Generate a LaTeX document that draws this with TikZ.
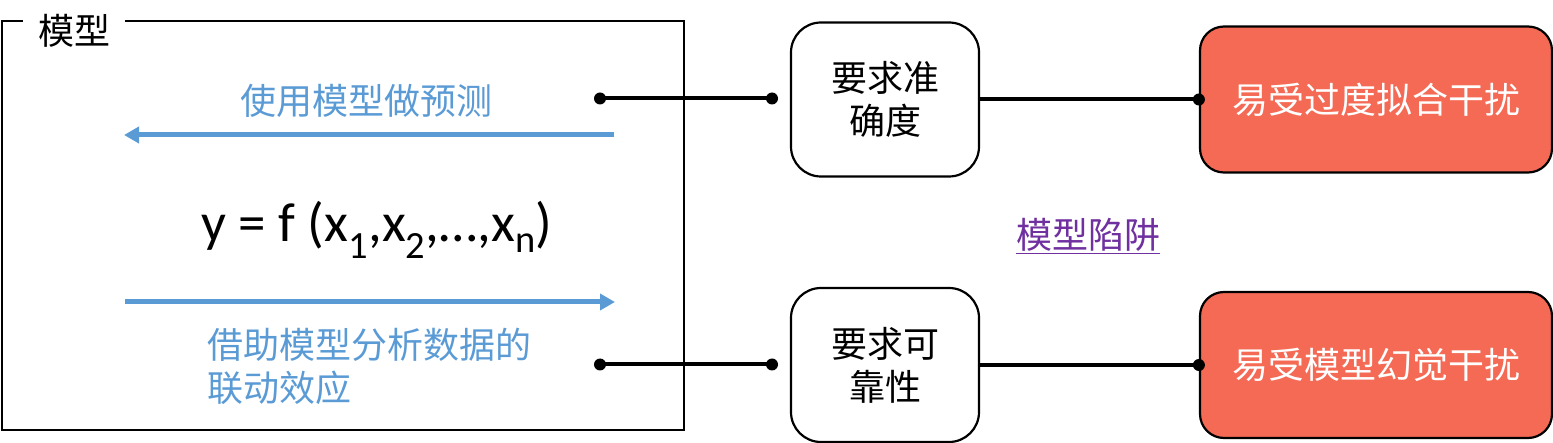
\documentclass[tikz,border=0pt]{standalone}
\usepackage{fontspec}
\setmainfont{Carlito}
\newfontfamily\cjk{Noto Sans CJK SC}
\usetikzlibrary{arrows.meta}
\definecolor{myblue}{HTML}{5B9BD5}
\definecolor{myred}{HTML}{F46A55}
\definecolor{mypurple}{HTML}{7030A0}
\begin{document}
\begin{tikzpicture}[x=1pt,y=-1pt,
  cjktext/.style={font=\cjk\fontsize{36}{43}\selectfont},
  framebox/.style={draw, line width=2.6pt, inner sep=0pt},
  bluearrow/.style={draw=myblue, line width=5pt, -{Triangle[length=15pt,width=16pt]}},
  dotnode/.style={circle, fill=black, inner sep=0pt, minimum size=12pt},
  conn/.style={draw, line width=4pt},
  wbox/.style={draw, line width=2.2pt, fill=white, rounded corners=30pt, minimum width=188pt, minimum height=154pt, align=center, cjktext},
  rbox/.style={draw, line width=2.2pt, fill=myred, rounded corners=24pt, minimum width=352pt, minimum height=146pt, text=white, cjktext}]
\useasboundingbox (0,0) rectangle (1553,443);
% model frame
\node[framebox, minimum width=682pt, minimum height=409pt] (frame) at (343,225.5) {};
\node[fill=white, cjktext, inner xsep=15pt, inner ysep=0pt] (flabel) at (74,31) {模型};
% inside
\node[cjktext, text=myblue] (t1) at (366,101) {使用模型做预测};
\coordinate (a1s) at (614,135);
\coordinate (a1e) at (124,135);
\draw[bluearrow] (a1s) -- (a1e);
\node[font=\fontsize{55}{60}\selectfont, anchor=base, inner sep=0pt] (fx) at (377,242) {y = f (x\textsubscript{1},x\textsubscript{2},…,x\textsubscript{n})};
\coordinate (a2s) at (125,302);
\coordinate (a2e) at (615,302);
\draw[bluearrow] (a2s) -- (a2e);
\node[cjktext, text=myblue, align=left, anchor=west, inner sep=0pt] (t2) at (207,366) {借助模型分析数据的\\联动效应};
% dots and connectors
\node[dotnode] (d1) at (600,98.5) {};
\node[dotnode] (d2) at (772,98.5) {};
\node[dotnode] (d3) at (600,364.5) {};
\node[dotnode] (d4) at (772,364.5) {};
\draw[conn] (d1.center) -- (d2.center);
\draw[conn] (d3.center) -- (d4.center);
% requirement boxes
\node[wbox] (b1) at (885,99.5) {要求准\\确度};
\node[wbox] (b2) at (885,365) {要求可\\靠性};
% red boxes
\node[rbox] (r1) at (1376,99.5) {易受过度拟合干扰};
\node[rbox] (r2) at (1376,365) {易受模型幻觉干扰};
\node[dotnode] (e1) at (r1.west) {};
\node[dotnode] (e2) at (r2.west) {};
\draw[conn] (b1.east) -- (e1.center);
\draw[conn] (b2.east) -- (e2.center);
% link
\node[cjktext, text=mypurple] (trap) at (1088,236) {\underline{模型陷阱}};
\end{tikzpicture}
\end{document}
